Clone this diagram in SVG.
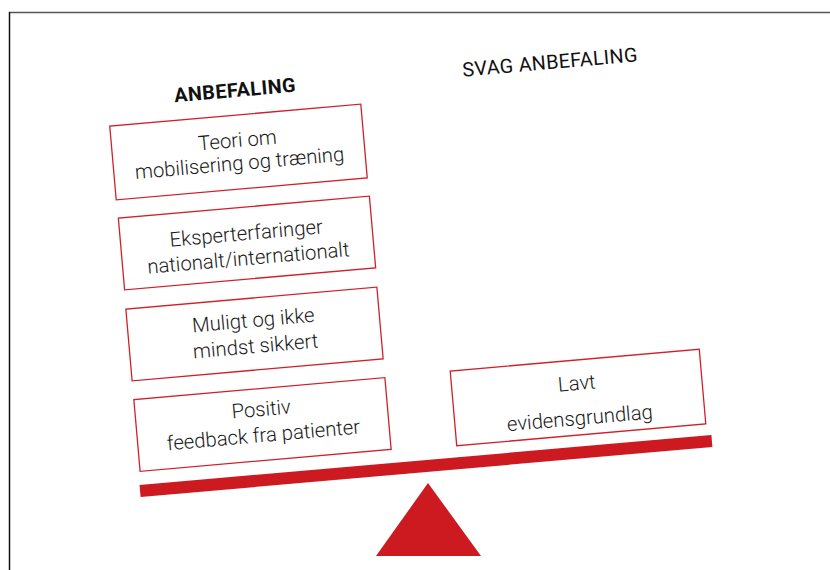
<svg xmlns="http://www.w3.org/2000/svg" width="830" height="570" viewBox="0 0 830 570">
<style>
.box{fill:#fff;stroke:#d0202a;stroke-width:1.3}
.t{font-family:Roboto,"Liberation Sans",sans-serif;font-weight:300;font-size:20.3px;fill:#1a1a1a;text-anchor:middle}
.h{font-family:Roboto,"Liberation Sans",sans-serif;font-size:19.8px;fill:#111;text-anchor:middle}
.red{fill:#cc1a20}
</style>
<rect width="830" height="570" fill="#fff"/>
<line x1="9" y1="12.5" x2="830" y2="12.5" stroke="#555" stroke-width="1.5"/>
<line x1="9.5" y1="12" x2="9.5" y2="570" stroke="#111" stroke-width="1.5"/>
<g id="title-left" transform="rotate(-5 235 90)"><text class="h" x="235" y="97" font-weight="700" letter-spacing="0.5">ANBEFALING</text></g>
<g id="title-right" transform="rotate(-5 550 62)"><text class="h" x="550" y="69" letter-spacing="0.3">SVAG ANBEFALING</text></g>
<g id="box1" transform="rotate(-5 238.5 152)">
<rect class="box" x="112.5" y="115" width="252" height="74"/>
<text class="t" x="238.5" y="147">Teori om</text>
<text class="t" x="238.5" y="170">mobilisering og træning</text>
</g>
<g id="box2" transform="rotate(-5 247 243)">
<rect class="box" x="121" y="207" width="252" height="72"/>
<text class="t" x="247" y="240">Eksperterfaringer</text>
<text class="t" x="247" y="265">nationalt/internationalt</text>
</g>
<g id="box3" transform="rotate(-5 254.5 334)">
<rect class="box" x="128.5" y="298" width="252" height="72"/>
<text class="t" x="254.5" y="327">Muligt og ikke</text>
<text class="t" x="254.5" y="353">mindst sikkert</text>
</g>
<g id="box4" transform="rotate(-5 262.5 424.5)">
<rect class="box" x="136.5" y="388.5" width="252" height="72"/>
<text class="t" x="262.5" y="416">Positiv</text>
<text class="t" x="262.5" y="442">feedback fra patienter</text>
</g>
<g id="box5" transform="rotate(-5 578 397.5)">
<rect class="box" x="453" y="360" width="250" height="75"/>
<text class="t" x="578" y="390">Lavt</text>
<text class="t" x="578" y="425">evidensgrundlag</text>
</g>
<g id="connectors">
<rect id="beam" class="red" x="139" y="460" width="574" height="12" transform="rotate(-5 426 466)"/>
<polygon id="fulcrum" class="red" points="428,483 481,556 376,556"/>
</g>
</svg>
